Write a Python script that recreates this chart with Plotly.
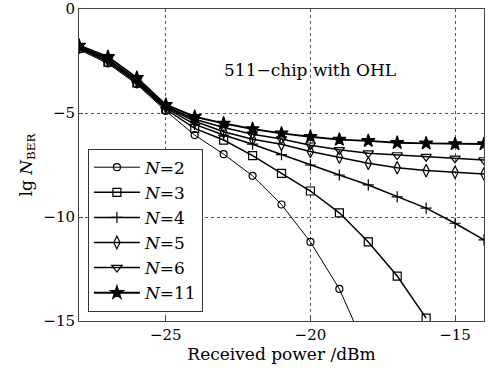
import plotly.graph_objects as go

power = [-28, -27, -26, -25, -24, -23, -22, -21, -20, -19, -18, -17, -16, -15, -14]

ber_n2 = [-1.95, -2.62, -3.62, -4.90, -6.06, -6.98, -8.02, -9.40, -11.20, -13.46, -16.60]
ber_n3 = [-1.90, -2.55, -3.55, -4.82, -5.74, -6.30, -7.05, -7.90, -8.75, -9.80, -11.20, -12.84, -14.86]
ber_n4 = [-1.85, -2.50, -3.50, -4.75, -5.55, -6.06, -6.50, -7.00, -7.50, -7.98, -8.46, -9.03, -9.57, -10.30, -11.10]
ber_n5 = [-1.83, -2.45, -3.45, -4.70, -5.40, -5.90, -6.26, -6.50, -6.85, -7.12, -7.42, -7.63, -7.77, -7.85, -7.93]
ber_n6 = [-1.80, -2.40, -3.40, -4.67, -5.30, -5.70, -6.02, -6.25, -6.55, -6.77, -6.93, -7.02, -7.10, -7.18, -7.26]
ber_n11 = [-1.75, -2.30, -3.30, -4.60, -5.18, -5.50, -5.77, -5.98, -6.14, -6.28, -6.34, -6.43, -6.46, -6.49, -6.49]

series = [
    ("<i>N</i>=2", ber_n2, "circle-open", 7, 1.0),
    ("<i>N</i>=3", ber_n3, "square-open", 8, 1.5),
    ("<i>N</i>=4", ber_n4, "cross-thin-open", 8, 1.5),
    ("<i>N</i>=5", ber_n5, "diamond-tall-open", 9, 1.5),
    ("<i>N</i>=6", ber_n6, "triangle-down-open", 9, 1.5),
    ("<i>N</i>=11", ber_n11, "star", 10, 1.9),
]

FONT = "DejaVu Serif"

fig = go.Figure()
for name, vals, sym, size, lw in series:
    fig.add_trace(go.Scatter(
        x=power[:len(vals)], y=vals, name=name, mode="lines+markers",
        line=dict(color="black", width=lw),
        marker=dict(symbol=sym, size=size, color="black",
                    line=dict(color="black", width=1.2)),
        cliponaxis=True,
    ))

fig.add_annotation(x=-20, y=-2.93, text="511\u2212chip with OHL", showarrow=False,
                   font=dict(family=FONT, size=17, color="black"))

axis_common = dict(
    showline=True, linecolor="#444", linewidth=1, mirror=True,
    ticks="inside", ticklen=4, tickcolor="#444",
    showgrid=True, gridcolor="#555", griddash="dot", gridwidth=1,
    zeroline=False, automargin=False,
    tickfont=dict(family=FONT, size=15, color="black"),
)

fig.update_xaxes(range=[-28, -14], tickvals=[-25, -20, -15],
                 ticktext=["\u221225", "\u221220", "\u221215"],
                 title=dict(text="Received power /dBm", font=dict(family=FONT, size=17, color="black"), standoff=3),
                 **axis_common)
fig.update_yaxes(range=[-15, 0], tickvals=[0, -5, -10, -15],
                 ticktext=["0", "\u22125", "\u221210", "\u221215"],
                 title=dict(text="lg <i>N</i><sub>BER</sub>", font=dict(family=FONT, size=17, color="black"), standoff=6),
                 **axis_common)

fig.update_layout(
    width=495, height=368,
    margin=dict(l=79, r=11, t=9, b=47),
    plot_bgcolor="white", paper_bgcolor="white",
    showlegend=True,
    legend=dict(x=0.022, y=0.03, xanchor="left", yanchor="bottom",
                bordercolor="#333", borderwidth=1, bgcolor="white",
                font=dict(family=FONT, size=17, color="black"),
                tracegroupgap=0, itemwidth=46),
)

fig.write_html("out.html")
